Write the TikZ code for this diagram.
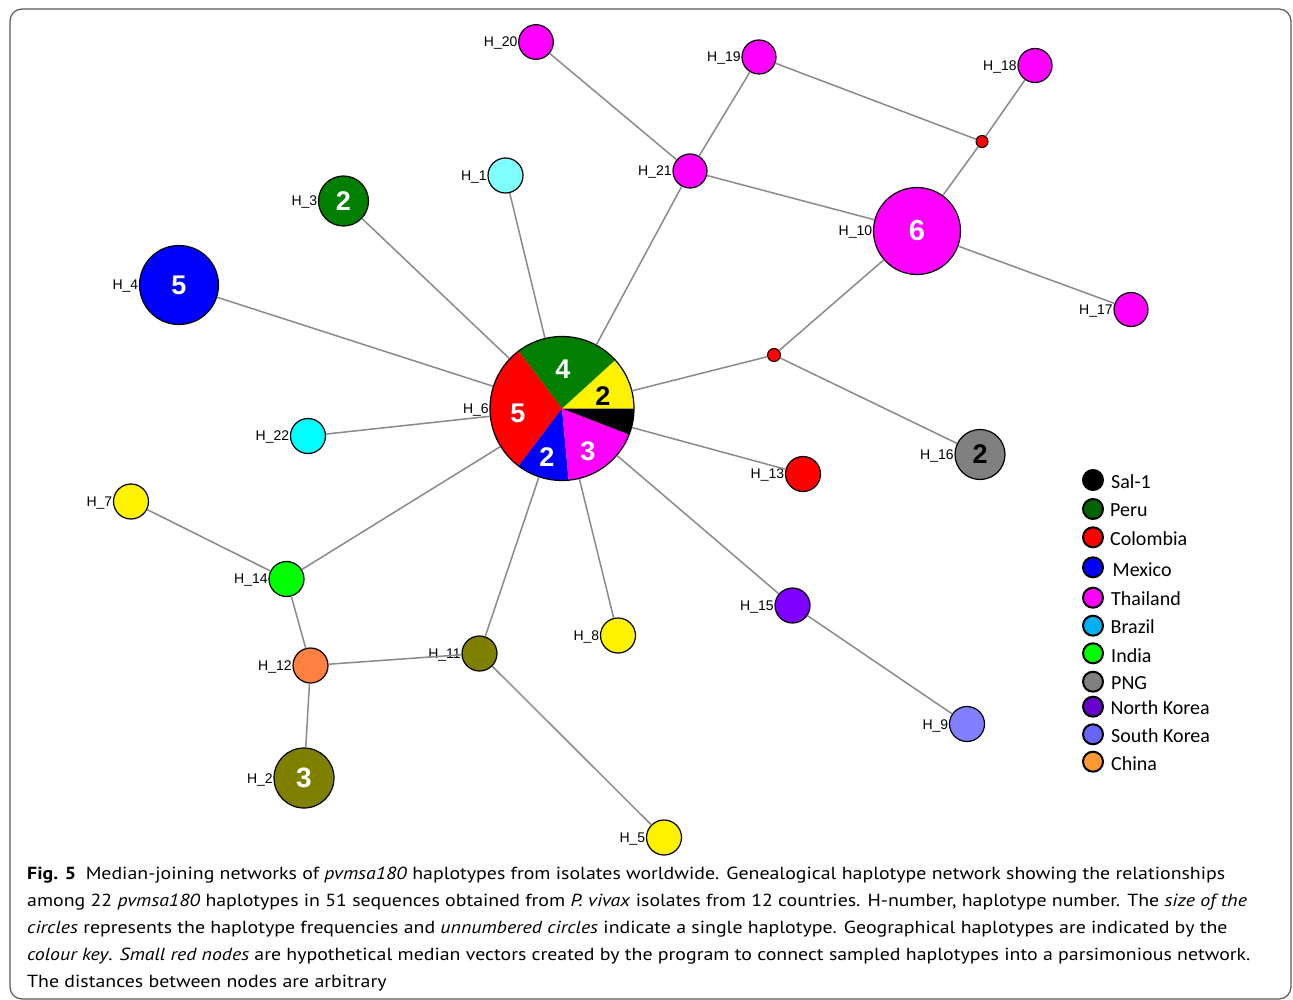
\documentclass[tikz,border=0pt]{standalone}
\usepackage{fontspec}
\newfontfamily\labfam{Liberation Sans}
\newfontfamily\legfam{Carlito}
\newfontfamily\capfam[FakeStretch=1.135]{PT Sans}
\newcommand\mylab{\labfam\fontsize{14}{16}\selectfont}
\newcommand\mynum{\labfam\bfseries\fontsize{27}{29}\selectfont}
\newcommand\myleg{\legfam\fontsize{20}{22}\selectfont}
\newcommand\mycap{\capfam\fontsize{17.5}{20}\selectfont}
\definecolor{mag}{HTML}{FF00FF}
\definecolor{lcyan}{HTML}{80FFFF}
\definecolor{cyn}{HTML}{00FFFF}
\definecolor{dgreen}{HTML}{007F00}
\definecolor{peru}{HTML}{006400}
\definecolor{olv}{HTML}{808000}
\definecolor{orng}{HTML}{FF8040}
\definecolor{purp}{HTML}{7F00FF}
\definecolor{lblue}{HTML}{8080FF}
\definecolor{gry}{HTML}{808080}
\definecolor{brazil}{HTML}{00B0F0}
\definecolor{nkorea}{HTML}{6600CC}
\definecolor{skorea}{HTML}{6666FF}
\definecolor{china}{HTML}{FF9933}
\definecolor{lime}{HTML}{00FF00}
\definecolor{edgecol}{HTML}{8A8A8A}
\begin{document}
\begin{tikzpicture}[x=1pt,y=1pt,
  hap/.style={circle,draw=black,line width=1.2pt,inner sep=0pt,minimum size=#1,font=\mynum,text=white},
  med/.style={circle,draw=black,line width=1pt,inner sep=0pt,minimum size=12pt,fill=red},
  lab/.style={font=\mylab,inner sep=0.5pt,text=black,yshift=-1.5pt},
  edge/.style={draw=edgecol,line width=1.5pt},
  keydot/.style={circle,draw=black,line width=2pt,inner sep=0pt,minimum size=20pt},
  keytxt/.style={font=\myleg,anchor=west,inner sep=0pt},
  capline/.style={font=\mycap,anchor=base west,inner sep=0pt},
  pienum/.style={font=\mynum,text=white,inner sep=0pt}
]
\useasboundingbox (0,0) rectangle (1293,-1000);
\fill[white] (0,0) rectangle (1293,-1000);
\draw[black!65,line width=1.2pt,rounded corners=12pt] (10,-9) rectangle (1291,-999);

% pie chart H_6
\coordinate (pc) at (562,-408.5);
\def\pr{72}
\fill[yellow] (pc) -- ++(0:\pr) arc (0:42.35:\pr) -- cycle;
\fill[dgreen] (pc) -- ++(42.35:\pr) arc (42.35:127.06:\pr) -- cycle;
\fill[red] (pc) -- ++(127.06:\pr) arc (127.06:232.94:\pr) -- cycle;
\fill[blue] (pc) -- ++(232.94:\pr) arc (232.94:275.29:\pr) -- cycle;
\fill[mag] (pc) -- ++(275.29:\pr) arc (275.29:338.82:\pr) -- cycle;
\fill[black] (pc) -- ++(338.82:\pr) arc (338.82:360:\pr) -- cycle;
\node[circle,draw=black,line width=1.2pt,inner sep=0pt,minimum size=144pt,label={[lab]left:H\_6}] (h6) at (pc) {};
\node[pienum] (p4) at (563,-369) {4};
\node[pienum,text=black] (p2y) at (603,-396) {2};
\node[pienum] (p5) at (518,-413) {5};
\node[pienum] (p2b) at (547,-457) {2};
\node[pienum] (p3) at (588,-451) {3};

% haplotype nodes
\node[hap=34.6pt,fill=mag,label={[lab]left:H\_20}] (h20) at (536,-42) {};
\node[hap=34pt,fill=mag,label={[lab]left:H\_19}] (h19) at (759,-57) {};
\node[hap=34pt,fill=mag,label={[lab]left:H\_18}] (h18) at (1035,-65.5) {};
\node[med] (m1) at (982,-141.5) {};
\node[hap=34pt,fill=mag,label={[lab]left:H\_21}] (h21) at (690,-171) {};
\node[hap=35pt,fill=lcyan,label={[lab]left:H\_1}] (h1) at (505.5,-175.5) {};
\node[hap=50pt,fill=dgreen,label={[lab]left:H\_3}] (h3) at (343.5,-201) {2};
\node[hap=87pt,fill=mag,font=\labfam\bfseries\fontsize{29}{31}\selectfont,label={[lab]left:H\_10}] (h10) at (917,-231) {6};
\node[hap=79pt,fill=blue,label={[lab]left:H\_4}] (h4) at (179,-285) {5};
\node[hap=34pt,fill=mag,label={[lab]left:H\_17}] (h17) at (1131,-309.5) {};
\node[med,minimum size=13pt] (m2) at (774,-355) {};
\node[hap=35pt,fill=cyn,label={[lab]left:H\_22}] (h22) at (308,-436) {};
\node[hap=50pt,fill=gry,text=black,label={[lab]left:H\_16}] (h16) at (980,-454.5) {2};
\node[hap=35pt,fill=red,label={[lab]left:H\_13}] (h13) at (803,-474) {};
\node[hap=35pt,fill=yellow,label={[lab]left:H\_7}] (h7) at (131,-501.5) {};
\node[hap=35pt,fill=lime,label={[lab]left:H\_14}] (h14) at (286.5,-579) {};
\node[hap=35pt,fill=purp,label={[lab]left:H\_15}] (h15) at (792.5,-605.5) {};
\node[hap=35pt,fill=yellow,label={[lab]left:H\_8}] (h8) at (618,-635.5) {};
\node[hap=35pt,fill=olv,label={[lab]left:H\_11}] (h11) at (479.5,-653.5) {};
\node[hap=35pt,fill=orng,label={[lab]left:H\_12}] (h12) at (310.5,-665.5) {};
\node[hap=35pt,fill=lblue,label={[lab]left:H\_9}] (h9) at (967,-724) {};
\node[hap=60pt,fill=olv,font=\labfam\bfseries\fontsize{28}{30}\selectfont,label={[lab]left:H\_2}] (h2) at (304,-778) {3};
\node[hap=35pt,fill=yellow,label={[lab]left:H\_5}] (h5) at (664,-837.5) {};

% connectors
\draw[edge] (h20) -- (h21);
\draw[edge] (h19) -- (h21);
\draw[edge] (h19) -- (m1);
\draw[edge] (h18) -- (m1);
\draw[edge] (m1) -- (h10);
\draw[edge] (h21) -- (h10);
\draw[edge] (h21) -- (h6);
\draw[edge] (h1) -- (h6);
\draw[edge] (h3) -- (h6);
\draw[edge] (h4) -- (h6);
\draw[edge] (h10) -- (h17);
\draw[edge] (h10) -- (m2);
\draw[edge] (m2) -- (h6);
\draw[edge] (m2) -- (h16);
\draw[edge] (h22) -- (h6);
\draw[edge] (h13) -- (h6);
\draw[edge] (h15) -- (h6);
\draw[edge] (h15) -- (h9);
\draw[edge] (h8) -- (h6);
\draw[edge] (h11) -- (h6);
\draw[edge] (h14) -- (h6);
\draw[edge] (h7) -- (h14);
\draw[edge] (h14) -- (h12);
\draw[edge] (h12) -- (h11);
\draw[edge] (h12) -- (h2);
\draw[edge] (h11) -- (h5);

% legend
\node[keydot,fill=black] (k1) at (1093,-480) {};
\node[keytxt] (t1) at (1111,-482) {Sal-1};
\node[keydot,fill=peru] (k2) at (1093,-509) {};
\node[keytxt] (t2) at (1110,-510) {Peru};
\node[keydot,fill=red] (k3) at (1093,-537.3) {};
\node[keytxt] (t3) at (1110,-539) {Colombia};
\node[keydot,fill=blue] (k4) at (1093,-567.3) {};
\node[keytxt] (t4) at (1112.5,-570) {Mexico};
\node[keydot,fill=mag] (k5) at (1093,-597.7) {};
\node[keytxt] (t5) at (1111,-599) {Thailand};
\node[keydot,fill=brazil] (k6) at (1093,-625.7) {};
\node[keytxt] (t6) at (1110.5,-627) {Brazil};
\node[keydot,fill=lime] (k7) at (1093,-653.3) {};
\node[keytxt] (t7) at (1111,-656) {India};
\node[keydot,fill=gry] (k8) at (1093,-681.7) {};
\node[keytxt] (t8) at (1111,-683) {PNG};
\node[keydot,fill=nkorea] (k9) at (1093,-706.7) {};
\node[keytxt] (t9) at (1110.5,-707.5) {North Korea};
\node[keydot,fill=skorea] (k10) at (1093,-734.3) {};
\node[keytxt] (t10) at (1111,-736) {South Korea};
\node[keydot,fill=china] (k11) at (1093,-761.7) {};
\node[keytxt] (t11) at (1111,-764) {China};

% caption
\node[capline] (c1) at (27,-879) {\textbf{Fig. 5}\hspace{0.55em}Median-joining networks of \textit{pvmsa180} haplotypes from isolates worldwide. Genealogical haplotype network showing the relationships};
\node[capline] (c2) at (27,-906.5) {among 22 \textit{pvmsa180} haplotypes in 51 sequences obtained from \textit{P. vivax} isolates from 12 countries. H-number, haplotype number. The \textit{size of the}};
\node[capline] (c3) at (27,-933.5) {\textit{circles} represents the haplotype frequencies and \textit{unnumbered circles} indicate a single haplotype. Geographical haplotypes are indicated by the};
\node[capline] (c4) at (27,-960.5) {\textit{colour key}. \textit{Small red nodes} are hypothetical median vectors created by the program to connect sampled haplotypes into a parsimonious network.};
\node[capline] (c5) at (27,-987.5) {The distances between nodes are arbitrary};
\end{tikzpicture}
\end{document}
